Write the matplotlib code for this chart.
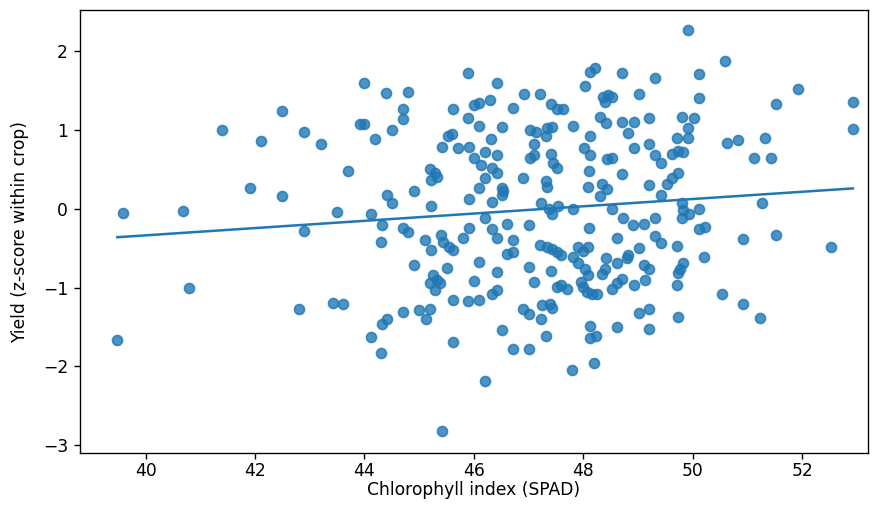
import numpy as np
import matplotlib
matplotlib.use("Agg")
import matplotlib.pyplot as plt
import seaborn as sns

# chlorophyll (SPAD) readings in rough column groups
spad = [
    39.48, 39.58, 40.68, 40.79, 41.4, 41.9, 42.1, 42.5, 42.5, 42.8, 42.9, 42.9,
    43.2, 43.5, 43.43, 43.6, 43.7,
    44.12, 44.3, 44.32, 44.41, 44.7, 45.0, 45.2, 45.12, 45.62, 45.42, 46.2,
    46.52, 46.72, 47.0, 46.9, 47.0, 47.23, 47.32, 47.42,
    48.13, 48.13, 48.23, 48.62, 49.02, 49.2, 49.2, 49.73, 51.23, 47.8, 48.2,
    44.0, 44.4, 44.8, 44.7, 44.7, 43.92, 44.0, 44.5, 44.2, 45.9, 46.42, 45.62,
    46.0, 46.1, 46.3, 45.9, 46.1, 46.72, 46.52, 46.92, 47.2, 47.41, 47.52,
    45.53, 45.6, 46.31, 45.42, 45.71, 45.91, 47.02, 47.13, 47.34, 47.42,
    47.32, 47.1, 46.0, 46.2, 46.42, 47.02, 47.1, 47.41,
    49.92, 48.22, 48.13, 48.71, 49.31, 50.6, 50.11, 48.04, 48.36, 48.45,
    48.52, 48.4, 49.02, 50.11, 47.63, 48.31, 48.42, 47.81, 48.71, 48.93,
    49.21, 49.8, 50.02, 49.92, 48.82, 48.13, 49.71, 49.92, 50.62, 50.82,
    51.32, 48.02, 48.13, 48.93, 49.21, 49.62, 49.73, 49.82, 49.31, 48.43,
    48.52, 51.12,
    51.93, 51.52, 52.93, 52.93, 51.43, 51.27, 51.52, 52.53,
    45.2, 45.29, 45.33, 45.22, 46.13, 46.33, 46.42, 46.2, 46.1, 46.52, 46.54,
    46.52, 46.9, 47.32, 47.34, 47.44, 47.52, 44.9, 44.41, 44.5, 45.22, 45.91,
    46.33, 47.23, 47.38, 47.42, 44.12, 44.32, 44.7, 44.8, 44.3, 45.1, 45.21,
    45.4, 45.43, 45.55, 45.62, 45.91, 45.8, 46.2, 46.33, 46.42, 46.61, 47.0,
    46.72, 46.61, 46.72, 47.21, 47.34, 47.42, 47.52, 44.9, 45.51, 46.1, 46.42,
    47.0, 47.41, 45.25, 45.33, 45.2, 45.38, 45.29, 46.0, 47.1, 47.52, 46.33,
    46.42, 45.62, 45.89, 46.1, 47.25, 47.4,
    49.42, 48.1, 48.71, 48.09, 48.34, 48.43, 48.31, 49.21, 49.53, 49.62,
    49.73, 49.42, 47.54, 47.81, 48.52, 49.8, 49.82, 49.93, 49.8, 50.11,
    48.72, 48.91, 49.11, 49.31, 50.11, 50.22, 48.1, 48.62, 49.31, 49.42,
    50.92, 47.9, 48.09, 48.0, 49.02, 49.71, 47.6, 47.81, 47.9, 48.82, 48.8,
    48.42, 48.62, 50.2, 49.11, 49.2, 49.82, 49.77, 49.73, 48.4, 48.34, 48.04,
    48.09, 48.71, 48.62, 48.52, 48.93, 49.13, 49.71, 47.95, 48.0, 48.07,
    48.16, 48.25, 47.6, 47.71, 50.53, 50.92,
]

# yield z-scores, same order as spad
yield_z = [
    -1.66, -0.05, -0.03, -1.0, 1.0, 0.26, 0.86, 1.24, 0.16, -1.27, 0.98, -0.28,
    0.82, -0.04, -1.2, -1.21, 0.48,
    -1.63, -1.83, -1.46, -1.4, -1.31, -1.28, -1.27, -1.4, -1.69, -2.82, -2.19,
    -1.54, -1.78, -1.78, -1.27, -1.34, -1.4, -1.62, -1.26,
    -1.49, -1.64, -1.62, -1.5, -1.32, -1.27, -1.53, -1.37, -1.39, -2.05, -1.96,
    1.59, 1.47, 1.48, 1.27, 1.14, 1.08, 1.08, 1.0, 0.89, 1.72, 1.6, 1.26,
    1.32, 1.34, 1.38, 1.15, 1.05, 1.28, 1.04, 1.45, 1.46, 1.33, 1.27,
    0.92, 0.95, 0.89, 0.78, 0.77, 0.78, 1.0, 0.97, 1.02, 1.04,
    0.92, 0.82, 0.64, 0.72, 0.68, 0.64, 0.68, 0.69,
    2.27, 1.78, 1.73, 1.72, 1.66, 1.88, 1.71, 1.56, 1.42, 1.44,
    1.42, 1.36, 1.46, 1.4, 1.27, 1.17, 1.09, 1.05, 1.1, 1.1,
    1.15, 1.17, 1.15, 1.03, 0.96, 0.92, 0.9, 0.9, 0.83, 0.87,
    0.9, 0.77, 0.68, 0.77, 0.82, 0.69, 0.73, 0.72, 0.68, 0.63,
    0.64, 0.64,
    1.52, 1.33, 1.36, 1.01, 0.65, 0.07, -0.33, -0.48,
    0.5, 0.45, 0.4, 0.36, 0.55, 0.52, 0.45, 0.39, 0.26, 0.27, 0.22,
    0.17, 0.39, 0.35, 0.28, 0.58, 0.52, 0.23, 0.17, 0.07, 0.04, 0.12,
    0.09, 0.07, 0.0, -0.07, -0.06, -0.2, -0.25, -0.29, -0.42, -0.39, -0.52,
    -0.33, -0.42, -0.48, -0.52, -0.24, -0.37, -0.12, -0.26, -0.37, -0.19, -0.21,
    -0.4, -0.57, -0.55, -0.46, -0.48, -0.51, -0.55, -0.71, -0.75, -0.68, -0.8,
    -0.74, -0.79, -0.84, -0.9, -0.94, -0.94, -1.03, -0.91, -0.93, -0.99, -1.08,
    -1.03, -1.16, -1.17, -1.16, -1.22, -1.21,
    0.58, 0.48, 0.44, 0.28, 0.31, 0.25, 0.16, 0.3, 0.32, 0.39,
    0.45, 0.17, 0.03, 0.0, 0.0, 0.07, -0.01, -0.06, -0.12, 0.0,
    -0.12, -0.2, -0.19, -0.12, -0.26, -0.23, -0.25, -0.37, -0.35, -0.43,
    -0.38, -0.48, -0.48, -0.53, -0.5, -0.47, -0.58, -0.61, -0.69, -0.59, -0.63,
    -0.63, -0.69, -0.61, -0.71, -0.76, -0.69, -0.76, -0.81, -0.77, -0.83, -0.77,
    -0.84, -0.89, -0.94, -1.02, -0.97, -0.9, -0.97, -0.93, -0.99, -1.06,
    -1.08, -1.08, -0.97, -1.02, -1.08, -1.21,
]

x_ticks = [40, 42, 44, 46, 48, 50, 52]
y_ticks = [-3, -2, -1, 0, 1, 2]

# reference text is ~1.23x the default size
k = 1.23
plt.rcParams.update({
    "font.size": 10 * k,
    "axes.linewidth": 0.8 * k,
    "xtick.major.size": 3.5 * k,
    "ytick.major.size": 3.5 * k,
    "xtick.major.width": 0.8 * k,
    "ytick.major.width": 0.8 * k,
    "xtick.major.pad": 2.0,
    "ytick.major.pad": 3.5 * k,
})

fig = plt.figure(figsize=(8.8, 5.08), dpi=100)
ax = fig.add_axes([0.091, 0.108, 0.895, 0.872])

sns.regplot(x=np.array(spad), y=np.array(yield_z), ax=ax, ci=None,
            color="C0", scatter_kws={"s": 52, "linewidths": 1.2},
            line_kws={"lw": 1.8})

ax.set_xlim(38.8, 53.2)
ax.set_ylim(-3.1, 2.52)
ax.set_xticks(x_ticks)
ax.set_yticks(y_ticks)
ax.set_xlabel("Chlorophyll index (SPAD)", labelpad=0.5)
ax.set_ylabel("Yield (z-score within crop)", labelpad=10)

fig.savefig("out.png", dpi=100)
